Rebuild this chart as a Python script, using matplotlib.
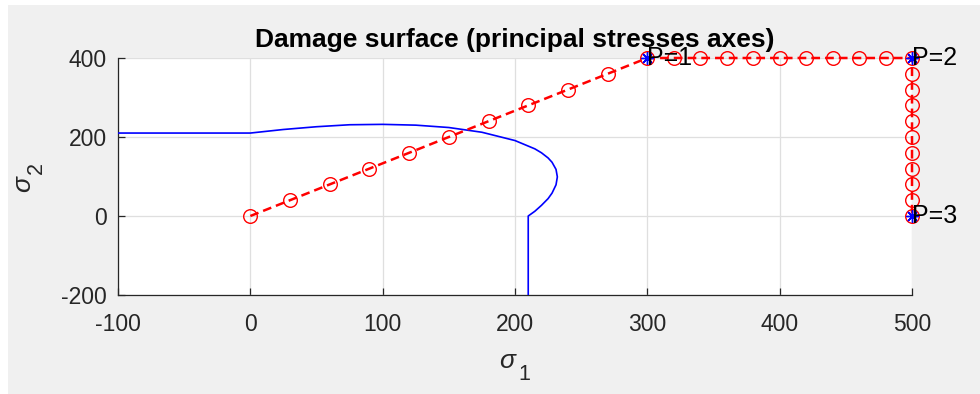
import matplotlib
matplotlib.use("Agg")
import matplotlib.pyplot as plt
from matplotlib.patches import Rectangle
import numpy as np

# damage surface in the principal stress plane (sigma1, sigma2)
surf_s1 = [-100, 0, 25, 50, 75, 100, 125, 150, 175, 200, 215, 220, 225, 228,
           231, 232, 231, 228, 225, 220, 215, 210, 210]
surf_s2 = [210, 210, 219, 226, 231, 232, 230, 224, 212, 191, 170, 160, 147, 136,
           118, 99, 79, 58, 44, 27, 12, 0, -200]

# loading path: (0,0) -> P1 -> P2 -> P3
path_s1 = [0, 30, 60, 90, 120, 150, 180, 210, 240, 270, 300,
           320, 340, 360, 380, 400, 420, 440, 460, 480, 500,
           500, 500, 500, 500, 500, 500, 500, 500, 500, 500]
path_s2 = [0, 40, 80, 120, 160, 200, 240, 280, 320, 360, 400,
           400, 400, 400, 400, 400, 400, 400, 400, 400, 400,
           360, 320, 280, 240, 200, 160, 120, 80, 40, 0]

key_s1 = [300, 500, 500]
key_s2 = [400, 400, 0]
key_labels = ['P=1', 'P=2', 'P=3']

plt.rcParams['font.family'] = ['Liberation Sans', 'DejaVu Sans']
plt.rcParams['axes.unicode_minus'] = False
dark = '#262626'
W, H = 980, 394

fig = plt.figure(figsize=(W / 100, H / 100), dpi=100, facecolor='white')
fig.patches.append(Rectangle((8 / W, 0), 1, 1 - 5 / H, transform=fig.transFigure,
                             facecolor='#f0f0f0', edgecolor='none', zorder=-10))
ax = fig.add_axes([118 / W, 1 - 295 / H, 794 / W, 237 / H])
ax.set_facecolor('white')

ax.plot(surf_s1, surf_s2, color='#0000ff', lw=1.2, zorder=3)
ax.plot(path_s1, path_s2, color='red', lw=1.8, linestyle=(0, (3.5, 2)),
        marker='o', markersize=9.8, markerfacecolor='none', markeredgecolor='red',
        markeredgewidth=1.0, zorder=4, clip_on=False)
ax.plot(key_s1, key_s2, linestyle='none', marker=(8, 2, 0), markersize=9,
        markeredgecolor='#0000ff', markeredgewidth=1.0, zorder=5, clip_on=False)
for x, y, t in zip(key_s1, key_s2, key_labels):
    ax.text(x, y, t, ha='left', va='center', fontsize=18, color='black', zorder=6)

ax.set_xlim(-100, 500)
ax.set_ylim(-200, 400)
ax.set_xticks([-100, 0, 100, 200, 300, 400, 500])
ax.set_yticks([-200, 0, 200, 400])
ax.grid(True, color='#dfdfdf', lw=0.9)
ax.set_axisbelow(True)
for side in ['top', 'right']:
    ax.spines[side].set_visible(False)
for side in ['left', 'bottom']:
    ax.spines[side].set_color(dark)
    ax.spines[side].set_linewidth(0.9)
ax.tick_params(direction='in', length=5, width=0.9, colors=dark, labelsize=16.5,
               labelcolor=dark)
ax.tick_params(axis='x', pad=13)
ax.tick_params(axis='y', pad=8)

ax.set_title('Damage surface (principal stresses axes)', fontsize=19,
             fontweight='bold', color='black', pad=8)

# axis labels: sigma with a full-size subscript index
fig.text(507 / W, 1 - 361 / H, 'σ', fontsize=19, style='italic', color=dark,
         ha='center', va='center')
fig.text(524 / W, 1 - 375 / H, '1', fontsize=15.5, color=dark, ha='center', va='center')
fig.text(23 / W, 1 - 184 / H, 'σ', fontsize=19, style='italic', color=dark,
         ha='center', va='center', rotation=90)
fig.text(36 / W, 1 - 168 / H, '2', fontsize=15.5, color=dark, ha='center', va='center',
         rotation=90)

fig.savefig('out.png', dpi=100, facecolor=fig.get_facecolor())
